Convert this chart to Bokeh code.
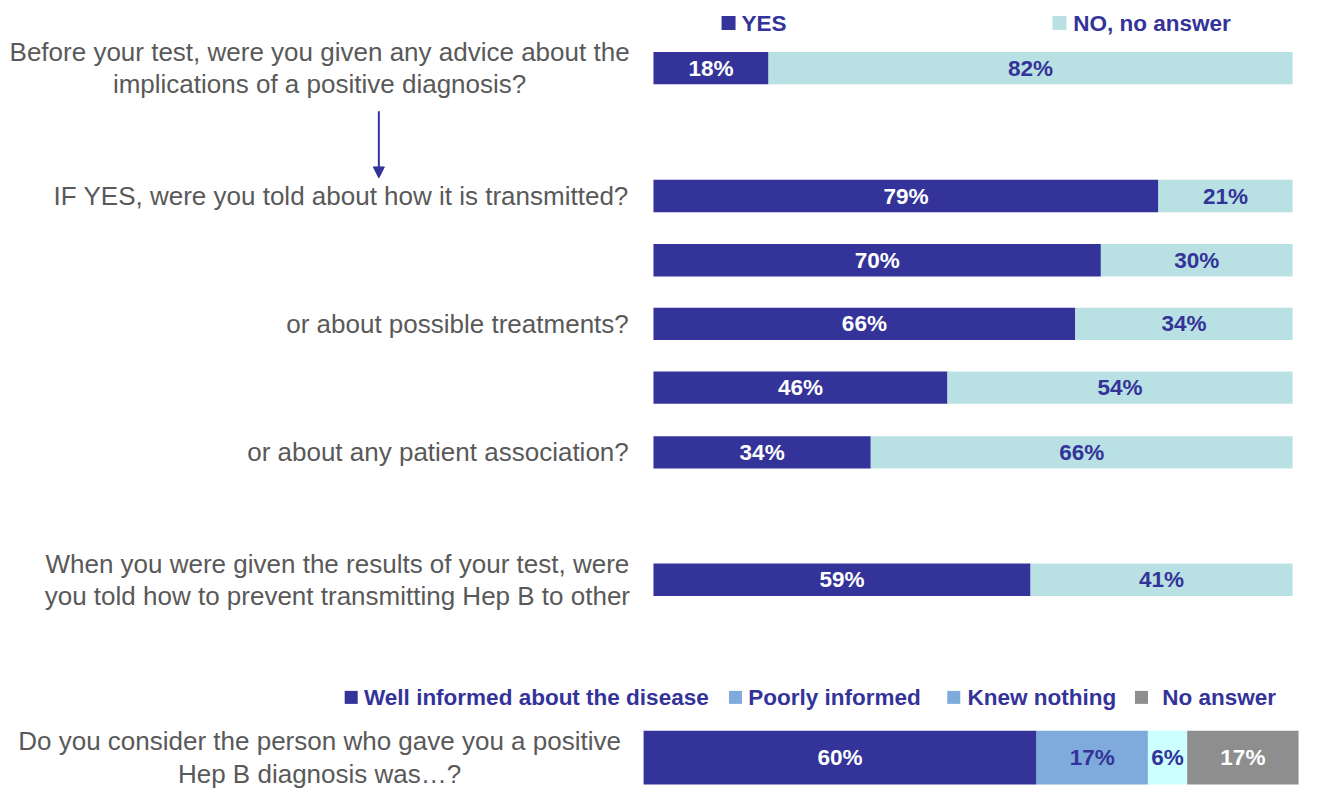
from bokeh.plotting import figure
from bokeh.models import Range1d, Arrow, NormalHead
from bokeh.core.properties import value
from bokeh.embed import file_html
from bokeh.resources import INLINE

# ---------------- data ----------------
questions = [
    "Before your test, were you given any advice about the\nimplications of a positive diagnosis?",
    "IF YES, were you told about how it is transmitted?",
    "",
    "or about possible treatments?",
    "",
    "or about any patient association?",
    "When you were given the results of your test, were\nyou told how to prevent transmitting Hep B to other",
]
yes_pct = [18, 79, 70, 66, 46, 34, 59]
no_pct = [82, 21, 30, 34, 54, 66, 41]
series_names = ["YES", "NO, no answer"]

bottom_question = "Do you consider the person who gave you a positive\nHep B diagnosis was…?"
bottom_categories = ["Well informed about the disease", "Poorly informed", "Knew nothing", "No answer"]
bottom_pct = [60, 17, 6, 17]

# ---------------- styles / layout (layout units = reference pixels) ----------------
NAVY = "#333399"
LIGHT = "#B9E0E3"
GREY_TXT = "#595959"
bottom_colors = ["#333399", "#7FAADC", "#CCFFFF", "#8E8E8E"]
bottom_legend_colors = ["#333399", "#7FAADC", "#7FAADC", "#8E8E8E"]
bottom_text_colors = ["white", NAVY, NAVY, "white"]

W, H = 1301, 790          # figure size in screen px
RW, RH = 1317, 806        # layout units
row_y = [69, 199.5, 265, 330, 395, 461, 591]
bar_h = 33
bottom_y = 772.5
bottom_h = 55
q_center_x = {0: 323, 6: 341}
bottom_center_x = 323
q_right_x = 636
line_gap = 33
Q_FONT = "26px"
L_FONT = "22.5px"
FONT = value("Liberation Sans")

top0, top_scale = 661, 6.47      # 0 % position and px per % for upper bars
bot0, bot_scale = 651, 6.63      # same for the bottom bar

p = figure(width=W, height=H, output_backend="svg", toolbar_location=None,
           x_range=Range1d(-top0 / top_scale, (RW - top0) / top_scale),
           y_range=Range1d(RH, 0),
           x_axis_location=None, y_axis_location=None,
           min_border=0, min_border_left=0, min_border_right=0,
           min_border_top=0, min_border_bottom=0)
p.extra_x_ranges = {"px": Range1d(0, RW),
                    "bottom": Range1d(-bot0 / bot_scale, (RW - bot0) / bot_scale)}
p.grid.visible = False
p.outline_line_color = None
p.background_fill_color = "white"
p.border_fill_color = "white"

# ---------- top stacked bars ----------
p.hbar(y=row_y, left=0, right=yes_pct, height=bar_h, fill_color=NAVY, line_color=None)
p.hbar(y=row_y, left=yes_pct, right=[a + b for a, b in zip(yes_pct, no_pct)],
       height=bar_h, fill_color=LIGHT, line_color=None)

p.text(x=[v / 2 for v in yes_pct], y=row_y,
       text=[f"{v}%" for v in yes_pct], text_align="center", text_baseline="middle",
       text_font=FONT, text_font_style="bold", text_font_size=L_FONT, text_color="white")
p.text(x=[a + b / 2 for a, b in zip(yes_pct, no_pct)], y=row_y,
       text=[f"{v}%" for v in no_pct], text_align="center", text_baseline="middle",
       text_font=FONT, text_font_style="bold", text_font_size=L_FONT, text_color=NAVY)

# ---------- question labels ----------
for i, q in enumerate(questions):
    if not q:
        continue
    lines = q.split("\n")
    if len(lines) == 1:
        p.text(x=[q_right_x], y=[row_y[i]], text=[q], x_range_name="px",
               text_align="right", text_baseline="middle", text_font=FONT,
               text_font_size=Q_FONT, text_color=GREY_TXT)
    else:
        n = len(lines)
        ys = [row_y[i] + (k - (n - 1) / 2) * line_gap for k in range(n)]
        p.text(x=[q_center_x[i]] * n, y=ys, text=lines, x_range_name="px",
               text_align="center", text_baseline="middle", text_font=FONT,
               text_font_size=Q_FONT, text_color=GREY_TXT)

# arrow from first question to follow-up
p.add_layout(Arrow(x_start=383, y_start=113, x_end=383, y_end=181, x_range_name="px",
                   line_color=NAVY, line_width=2,
                   end=NormalHead(size=11, fill_color=NAVY, line_color=NAVY)))

# ---------- top legend ----------
top_leg_sq_x = [737, 1072]
top_leg_text_x = [750, 1086]
top_leg_y = 23
p.scatter(x=top_leg_sq_x, y=[top_leg_y] * 2, marker="square", size=14,
          fill_color=[NAVY, LIGHT], line_color=None, x_range_name="px")
p.text(x=top_leg_text_x, y=[top_leg_y] * 2, text=series_names,
       x_range_name="px", text_align="left", text_baseline="middle", text_font=FONT,
       text_font_style="bold", text_font_size=L_FONT, text_color=NAVY)

# ---------- bottom stacked bar ----------
lefts = [sum(bottom_pct[:k]) for k in range(len(bottom_pct))]
rights = [l + v for l, v in zip(lefts, bottom_pct)]
p.hbar(y=[bottom_y] * 4, left=lefts, right=rights, height=bottom_h,
       fill_color=bottom_colors, line_color=None, x_range_name="bottom")
p.text(x=[(l + r) / 2 for l, r in zip(lefts, rights)], y=[bottom_y] * 4,
       text=[f"{v}%" for v in bottom_pct], x_range_name="bottom",
       text_align="center", text_baseline="middle", text_font=FONT,
       text_font_style="bold", text_font_size=L_FONT, text_color=bottom_text_colors)

blines = bottom_question.split("\n")
nb = len(blines)
p.text(x=[bottom_center_x] * nb,
       y=[bottom_y + (k - (nb - 1) / 2) * line_gap for k in range(nb)],
       text=blines, x_range_name="px", text_align="center", text_baseline="middle",
       text_font=FONT, text_font_size=Q_FONT, text_color=GREY_TXT)

# ---------- bottom legend ----------
bot_leg_sq_x = [355, 744, 965, 1155]
bot_leg_text_x = [368, 757, 979, 1176]
bot_leg_y = 711
p.scatter(x=bot_leg_sq_x, y=[bot_leg_y] * 4, marker="square", size=13,
          fill_color=bottom_legend_colors, line_color=None, x_range_name="px")
p.text(x=bot_leg_text_x, y=[bot_leg_y] * 4, text=bottom_categories,
       x_range_name="px", text_align="left", text_baseline="middle", text_font=FONT,
       text_font_style="bold", text_font_size=L_FONT, text_color=NAVY)

open("out.html", "w").write(file_html(p, INLINE))
